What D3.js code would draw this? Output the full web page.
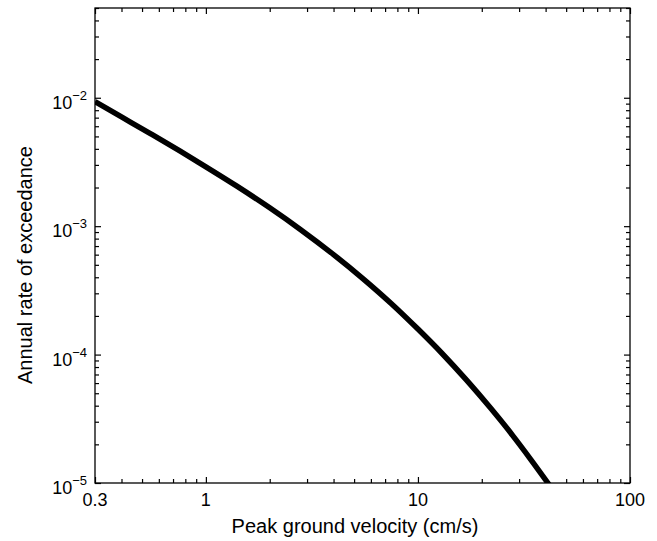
<!DOCTYPE html>
<html>
<head>
<meta charset="utf-8">
<script src="https://cdn.jsdelivr.net/npm/d3@7"></script>
<style>
    body { margin: 0; background: #ffffff; }
    svg text { font-family: "Liberation Sans", Arial, Helvetica, sans-serif; fill: #000000; }
</style>
</head>
<body>
<div id="chart"></div>
<script>
// Hazard curve
const pgv = [0.3, 0.4, 0.55, 0.75, 1, 1.4, 2, 2.8, 4, 5.5, 7.5, 10, 13, 17, 22, 28, 34, 41, 42];
const rate = [9.33e-3, 7.09e-3, 5.23e-3, 3.87e-3, 2.90e-3, 2.05e-3, 1.39e-3, 9.39e-4, 6.01e-4,
              3.91e-4, 2.49e-4, 1.58e-4, 1.02e-4, 6.29e-5, 3.83e-5, 2.34e-5, 1.53e-5, 1.0e-5, 9.46e-6];

const xDomain = [0.3, 100];
const yDomain = [1e-5, 0.05];
const xLabelTicks = [0.3, 1, 10, 100];
const yLabelExponents = [-5, -4, -3, -2];

const xTitle = 'Peak ground velocity (cm/s)';
const yTitle = 'Annual rate of exceedance';

const width = 657, height = 541;
const margin = { top: 8, right: 27, bottom: 58, left: 95 };
const innerWidth = width - margin.left - margin.right;
const innerHeight = height - margin.top - margin.bottom;

const svg = d3.select('#chart')
    .append('svg')
    .attr('width', width)
    .attr('height', height);

const g = svg.append('g')
    .attr('transform', `translate(${margin.left}, ${margin.top})`);

const x = d3.scaleLog().domain(xDomain).range([0, innerWidth]);
const y = d3.scaleLog().domain(yDomain).range([innerHeight, 0]);

const xAll = x.ticks();
const yAll = y.ticks();
const yMajor = yLabelExponents.map(e => Math.pow(10, e));
const isMajorX = v => xLabelTicks.some(t => Math.abs(t - v) / t < 1e-6);
const isMajorY = v => yMajor.some(t => Math.abs(t - v) / t < 1e-6);
const xMinor = xAll.filter(v => !isMajorX(v));
const yMinor = yAll.filter(v => !isMajorY(v));

// inward ticks on all four sides
function ticks(axisFn, scale, values, size, transform) {
    const a = g.append('g')
        .attr('transform', transform)
        .call(axisFn(scale).tickValues(values).tickSize(size).tickSizeOuter(0));
    a.select('.domain').remove();
    a.selectAll('text').remove();
    a.selectAll('line').attr('stroke', '#000').attr('stroke-width', 1.2);
}
ticks(d3.axisBottom, x, xMinor, -4, `translate(0, ${innerHeight})`);
ticks(d3.axisBottom, x, xLabelTicks, -6, `translate(0, ${innerHeight})`);
ticks(d3.axisTop, x, xMinor, -4, 'translate(0, 0)');
ticks(d3.axisTop, x, xLabelTicks, -6, 'translate(0, 0)');
ticks(d3.axisLeft, y, yMinor, -4, 'translate(0, 0)');
ticks(d3.axisLeft, y, yMajor, -6, 'translate(0, 0)');
ticks(d3.axisRight, y, yMinor, -4, `translate(${innerWidth}, 0)`);
ticks(d3.axisRight, y, yMajor, -6, `translate(${innerWidth}, 0)`);

// frame
g.append('rect')
    .attr('width', innerWidth)
    .attr('height', innerHeight)
    .attr('fill', 'none')
    .attr('stroke', '#000')
    .attr('stroke-width', 1.3);

// x tick labels
g.selectAll('.x-label')
    .data(xLabelTicks)
    .enter()
    .append('text')
    .attr('class', 'x-label')
    .attr('x', d => x(d))
    .attr('y', innerHeight + 23)
    .attr('text-anchor', 'middle')
    .style('font-size', '18px')
    .text(d => d);

// y tick labels with superscript exponents
const yl = g.selectAll('.y-label')
    .data(yLabelExponents)
    .enter()
    .append('text')
    .attr('class', 'y-label')
    .attr('x', -8)
    .attr('y', d => y(Math.pow(10, d)) + 11)
    .attr('text-anchor', 'end')
    .style('font-size', '18px');
yl.append('tspan').text('10');
yl.append('tspan')
    .attr('dy', -9)
    .style('font-size', '13px')
    .text(d => '\u2212' + Math.abs(d));

// clip and curve
svg.append('defs').append('clipPath')
    .attr('id', 'plot-clip')
    .append('rect')
    .attr('width', innerWidth)
    .attr('height', innerHeight);

const line = d3.line()
    .x(d => x(d[0]))
    .y(d => y(d[1]))
    .curve(d3.curveMonotoneX);

g.append('path')
    .datum(d3.zip(pgv, rate))
    .attr('clip-path', 'url(#plot-clip)')
    .attr('d', line)
    .attr('fill', 'none')
    .attr('stroke', '#000')
    .attr('stroke-width', 5.5);

// axis titles
svg.append('text')
    .attr('x', 355)
    .attr('y', 533)
    .attr('text-anchor', 'middle')
    .style('font-size', '20px')
    .text(xTitle);

svg.append('text')
    .attr('transform', 'translate(32, 265) rotate(-90)')
    .attr('text-anchor', 'middle')
    .style('font-size', '20px')
    .text(yTitle);
</script>
</body>
</html>
